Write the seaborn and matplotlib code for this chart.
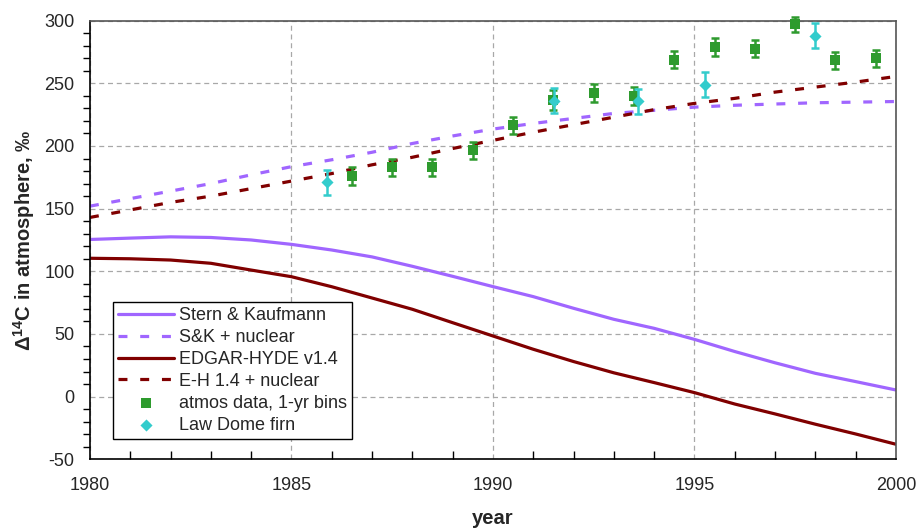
import numpy as np
import pandas as pd
import matplotlib
matplotlib.use("Agg")
import matplotlib.pyplot as plt
from matplotlib.ticker import MultipleLocator
import seaborn as sns

# ---------------- data ----------------
years = [1980, 1981, 1982, 1983, 1984, 1985, 1986, 1987, 1988, 1989, 1990,
         1991, 1992, 1993, 1994, 1995, 1996, 1997, 1998, 1999, 2000]
stern_kaufmann = [125.4, 126.5, 127.5, 127.0, 125.0, 121.5, 117.0, 111.5, 104.0, 96.0, 87.8,
                  79.8, 70.5, 61.7, 54.5, 45.7, 36.0, 27.0, 18.6, 12.0, 5.3]
sk_nuclear = [152, 158, 164, 170, 177, 183.5, 189, 195, 202, 208, 213.5,
              218, 222, 226, 228.5, 231, 232.5, 233.5, 234.5, 235, 235.5]
edgar_hyde = [110.4, 110.0, 109.0, 106.4, 101.0, 95.7, 87.7, 78.7, 69.7, 59.0, 48.4,
              37.8, 28.0, 19.0, 11.2, 3.2, -5.9, -13.8, -22.0, -29.8, -38.0]
eh_nuclear = [143, 149, 155, 160, 166, 172, 178, 185, 191, 198, 204.5,
              211, 217, 223, 229, 234, 238, 243, 247, 251, 255.5]

atmos_years = [1986.5, 1987.5, 1988.5, 1989.5, 1990.5, 1991.5, 1992.5,
               1993.5, 1994.5, 1995.5, 1996.5, 1997.5, 1998.5, 1999.5]
atmos_vals = [176, 183, 183, 196.5, 216.5, 237, 242.5, 240, 269, 279, 277.7, 297, 268.4, 270]
atmos_err = [7, 7, 7, 7, 7, 8, 7, 7, 7, 7, 7, 6, 7, 7]

firn_years = [1985.88, 1991.52, 1993.6, 1995.27, 1998.0]
firn_vals = [171, 236, 235.6, 249, 288]
firn_err = [10, 10, 10, 10, 10]

xticks = [1980, 1985, 1990, 1995, 2000]
yticks = [-50, 0, 50, 100, 150, 200, 250, 300]

# ---------------- style ----------------
sns.set_theme(style="white")
plt.rcParams["font.family"] = ["Liberation Sans", "DejaVu Sans"]
plt.rcParams["mathtext.fontset"] = "custom"
plt.rcParams["mathtext.rm"] = "Liberation Sans"
plt.rcParams["mathtext.bf"] = "Liberation Sans:bold"

PURPLE = "#A066FF"
MAROON = "#800000"
GREEN = "#2E9B2E"
CYAN = "#33CCCC"
FS = 13
LFS = 14.5

fig = plt.figure(figsize=(9.17, 5.29), dpi=100)
ax = fig.add_axes([0.0981, 0.1318, 0.8789, 0.8291])

lines = pd.DataFrame({"year": years, "sk": stern_kaufmann, "skn": sk_nuclear,
                      "eh": edgar_hyde, "ehn": eh_nuclear})
dash = (0, (2.8, 4.0))
sns.lineplot(data=lines, x="year", y="sk", color=PURPLE, lw=2.3, ax=ax,
             label="Stern & Kaufmann")
sns.lineplot(data=lines, x="year", y="skn", color=PURPLE, lw=2.3, ax=ax,
             linestyle=dash, label="S&K + nuclear")
sns.lineplot(data=lines, x="year", y="eh", color=MAROON, lw=2.3, ax=ax,
             label="EDGAR-HYDE v1.4")
sns.lineplot(data=lines, x="year", y="ehn", color=MAROON, lw=2.3, ax=ax,
             linestyle=dash, label="E-H 1.4 + nuclear")

ax.errorbar(atmos_years, atmos_vals, yerr=atmos_err, fmt="none", ecolor=GREEN,
            elinewidth=1.8, capsize=3, capthick=1.8, clip_on=False, zorder=4)
sns.scatterplot(x=atmos_years, y=atmos_vals, marker="s", s=55, color=GREEN,
                edgecolor=GREEN, linewidth=0, ax=ax, label="atmos data, 1-yr bins",
                zorder=5, clip_on=False)
ax.errorbar(firn_years, firn_vals, yerr=firn_err, fmt="none", ecolor=CYAN,
            elinewidth=1.8, capsize=3, capthick=1.8, clip_on=False, zorder=6)
sns.scatterplot(x=firn_years, y=firn_vals, marker="D", s=38, color=CYAN,
                edgecolor=CYAN, linewidth=0, ax=ax, label="Law Dome firn",
                zorder=7, clip_on=False)

# ---------------- axes ----------------
ax.set_xlim(1980, 2000)
ax.set_ylim(-50, 300)
ax.set_xticks(xticks)
ax.set_xticklabels([str(t) for t in xticks])
ax.set_yticks(yticks)
ax.set_yticklabels([str(t) for t in yticks])
ax.xaxis.set_minor_locator(MultipleLocator(1))
ax.yaxis.set_minor_locator(MultipleLocator(10))
ax.tick_params(axis="x", which="major", direction="inout", length=13, width=1,
               color="black", labelsize=FS, pad=6)
ax.tick_params(axis="x", which="minor", direction="in", length=6, width=1,
               color="black", bottom=True)
ax.tick_params(axis="y", which="major", direction="out", length=6, width=1,
               color="black", labelsize=FS, pad=5)
ax.tick_params(axis="y", which="minor", direction="out", length=5, width=1,
               color="black", left=True)

ax.grid(True, which="major", color="#A8A8A8", linestyle=(0, (4, 3)), linewidth=0.9)
ax.set_axisbelow(True)
for side in ["left", "bottom"]:
    ax.spines[side].set_color("black")
    ax.spines[side].set_linewidth(1.2)
for side in ["top", "right"]:
    ax.spines[side].set_color("#555555")
    ax.spines[side].set_linewidth(1.2)

ax.set_xlabel("year", fontsize=LFS, fontweight="bold", labelpad=11)
ax.set_ylabel("Δ$^{\\mathbf{14}}$C in atmosphere, ‰", fontsize=LFS,
              fontweight="bold", labelpad=5)

leg = ax.legend(loc="lower left", bbox_to_anchor=(0.0285, 0.0463),
                borderaxespad=0, fontsize=FS, frameon=True, fancybox=False,
                edgecolor="black", framealpha=1, handlelength=3.1,
                handletextpad=0.25, labelspacing=0.27, borderpad=0.3,
                markerscale=1.0)
leg.get_frame().set_linewidth(1.0)

fig.savefig("out.png", dpi=100)
